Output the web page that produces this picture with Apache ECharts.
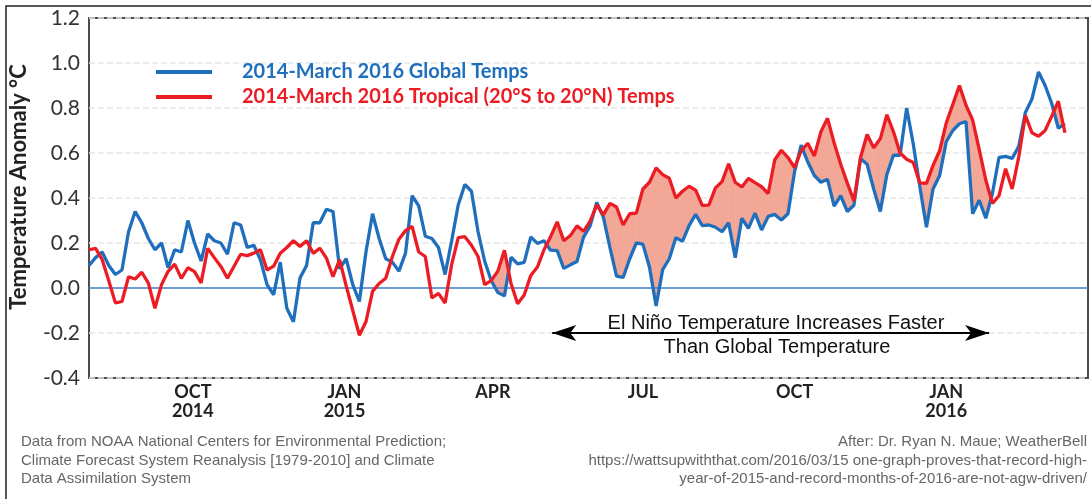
<!DOCTYPE html>
<html>
<head>
<meta charset="UTF-8">
<title>Global vs tropical temperature anomaly</title>
<script src="https://cdn.jsdelivr.net/npm/echarts@6/dist/echarts.min.js"></script>
<style>
  html, body { margin: 0; padding: 0; background: #fff; }
  #chart { width: 1091px; height: 500px; }
</style>
</head>
<body>
<div id="chart"></div>
<script>
// samples every 4 days from 30 Jul 2014
var startDate = '2014-07-30';
var endDate = '2016-03-27';
var stepDays = 4;

var globalTemps = [
  0.10, 0.135, 0.16, 0.10, 0.06, 0.08, 0.25, 0.34, 0.29, 0.22,
  0.17, 0.20, 0.09, 0.17, 0.16, 0.30, 0.20, 0.12, 0.24, 0.21,
  0.20, 0.15, 0.29, 0.28, 0.18, 0.19, 0.125, 0.015, -0.03, 0.115,
  -0.09, -0.15, 0.045, 0.10, 0.29, 0.29, 0.35, 0.34, 0.085, 0.13,
  0.015, -0.06, 0.16, 0.33, 0.22, 0.13, 0.115, 0.075, 0.155, 0.41,
  0.365, 0.23, 0.22, 0.18, 0.06, 0.21, 0.37, 0.46, 0.43, 0.25,
  0.12, 0.032, -0.02, -0.035, 0.137, 0.107, 0.114, 0.227, 0.198, 0.21,
  0.168, 0.166, 0.087, 0.103, 0.118, 0.226, 0.276, 0.38, 0.315, 0.18,
  0.053, 0.047, 0.13, 0.20, 0.195, 0.092, -0.08, 0.082, 0.13, 0.224,
  0.207, 0.277, 0.327, 0.277, 0.28, 0.27, 0.25, 0.29, 0.135, 0.31,
  0.265, 0.333, 0.258, 0.318, 0.327, 0.302, 0.33, 0.517, 0.635, 0.56,
  0.50, 0.47, 0.483, 0.364, 0.41, 0.34, 0.368, 0.576, 0.55, 0.44,
  0.34, 0.505, 0.59, 0.59, 0.80, 0.64, 0.45, 0.27, 0.44, 0.50,
  0.65, 0.70, 0.73, 0.74, 0.33, 0.39, 0.31, 0.42, 0.58, 0.585,
  0.576, 0.63, 0.78, 0.84, 0.96, 0.90, 0.82, 0.71, 0.73
];

var tropicalTemps = [
  0.17, 0.176, 0.126, 0.032, -0.066, -0.06, 0.05, 0.04, 0.07, 0.022,
  -0.09, 0.015, 0.074, 0.106, 0.043, 0.09, 0.073, 0.022, 0.176, 0.135,
  0.096, 0.044, 0.097, 0.15, 0.144, 0.155, 0.17, 0.08, 0.097, 0.154,
  0.18, 0.21, 0.185, 0.21, 0.154, 0.177, 0.133, 0.05, 0.126, 0.01,
  -0.1, -0.21, -0.15, -0.015, 0.02, 0.043, 0.139, 0.217, 0.255, 0.274,
  0.16, 0.14, -0.044, -0.024, -0.067, 0.105, 0.224, 0.228, 0.19, 0.14,
  0.015, 0.033, 0.075, 0.168, 0.02, -0.07, -0.031, 0.056, 0.093, 0.17,
  0.228, 0.294, 0.21, 0.233, 0.276, 0.252, 0.297, 0.37, 0.325, 0.376,
  0.36, 0.28, 0.33, 0.333, 0.44, 0.47, 0.534, 0.504, 0.488, 0.40,
  0.43, 0.452, 0.435, 0.367, 0.368, 0.445, 0.473, 0.552, 0.47, 0.449,
  0.487, 0.468, 0.45, 0.42, 0.57, 0.612, 0.58, 0.535, 0.61, 0.643,
  0.587, 0.695, 0.754, 0.645, 0.55, 0.466, 0.387, 0.58, 0.682, 0.623,
  0.663, 0.77, 0.694, 0.60, 0.572, 0.558, 0.467, 0.465, 0.545, 0.61,
  0.733, 0.816, 0.90, 0.812, 0.747, 0.616, 0.48, 0.376, 0.41, 0.53,
  0.44, 0.583, 0.767, 0.69, 0.674, 0.70, 0.764, 0.83, 0.69
];

var tickDates = ['2014-10-01', '2015-01-01', '2015-04-01', '2015-07-01', '2015-10-01', '2016-01-01'];
var tickLabels = ['OCT\n2014', 'JAN\n2015', 'APR', 'JUL', 'OCT', 'JAN\n2016'];

var shadeFrom = '2015-03-25';   // gap between the lines is shaded from here on
var arrowFrom = '2015-05-07';
var arrowTo = '2016-01-27';

var globalName = '2014-March 2016 Global Temps';
var tropicalName = '2014-March 2016 Tropical (20°S to 20°N) Temps';

var BLUE = '#1f6fbd', RED = '#ec1c24', PINK = '#f2a797';

// x axis is counted in days after startDate
function dayOf(s) {
  var p = s.split('-'), q = startDate.split('-');
  var a = Date.UTC(+p[0], +p[1] - 1, +p[2]), b = Date.UTC(+q[0], +q[1] - 1, +q[2]);
  return Math.round((a - b) / 86400000);
}

var days = globalTemps.map(function (v, k) { return k * stepDays; });

// one row per segment: x0, x1, tropical0, tropical1, global0, global1
var shadeStart = dayOf(shadeFrom);
var gapRows = [];
for (var i = 0; i < days.length - 1; i++) {
  if (days[i] < shadeStart) continue;
  gapRows.push([days[i], days[i + 1], tropicalTemps[i], tropicalTemps[i + 1], globalTemps[i], globalTemps[i + 1]]);
}

function renderGap(params, api) {
  var x0 = api.value(0), x1 = api.value(1);
  var r0 = api.value(2), r1 = api.value(3), b0 = api.value(4), b1 = api.value(5);
  var d0 = r0 - b0, d1 = r1 - b1;
  var pts;
  if (d0 >= 0 && d1 >= 0) {
    pts = [[x0, r0], [x1, r1], [x1, b1], [x0, b0]];
  } else if (d0 < 0 && d1 < 0) {
    return null;
  } else {
    var t = d0 / (d0 - d1);
    var xc = x0 + t * (x1 - x0), yc = b0 + t * (b1 - b0);
    pts = d0 >= 0 ? [[x0, r0], [xc, yc], [x0, b0]] : [[xc, yc], [x1, r1], [x1, b1]];
  }
  return {
    type: 'polygon',
    shape: { points: pts.map(function (p) { return api.coord(p); }) },
    style: { fill: PINK, stroke: PINK, lineWidth: 0.6 }
  };
}

var tickValues = tickDates.map(dayOf);
var labelFor = {};
tickValues.forEach(function (v, k) { labelFor[v] = tickLabels[k]; });

var chart = echarts.init(document.getElementById('chart'));

var option = {
  animation: false,
  grid: {
    left: 89, top: 18, width: 999, height: 360,
    show: true, borderColor: '#4d4d4d', borderWidth: 2, backgroundColor: '#fff'
  },
  legend: {
    orient: 'vertical', left: 151, top: 57, itemWidth: 56, itemHeight: 4, itemGap: 5,
    icon: 'rect',
    textStyle: { fontFamily: 'Lato', fontWeight: 'bold', fontSize: 20, padding: [0, 0, 0, 25] },
    data: [
      { name: globalName, textStyle: { color: BLUE } },
      { name: tropicalName, textStyle: { color: RED } }
    ]
  },
  xAxis: {
    type: 'value',
    min: 0, max: dayOf(endDate),
    axisLine: { show: false }, axisTick: { show: false }, splitLine: { show: false },
    axisLabel: {
      customValues: tickValues,
      formatter: function (v) { return labelFor[v] || ''; },
      fontFamily: 'Lato', fontWeight: 'bold', fontSize: 18, lineHeight: 19,
      color: '#222', margin: 5, hideOverlap: false
    }
  },
  yAxis: {
    type: 'value', min: -0.4, max: 1.2, interval: 0.2,
    axisLine: { show: false }, axisTick: { show: false },
    splitLine: { lineStyle: { color: '#e8e8e8', type: 'dashed', width: 1.5 } },
    axisLabel: {
      fontFamily: 'Lato', fontSize: 21, color: '#333', margin: 9,
      formatter: function (v) { return Math.abs(v) < 1e-9 ? '0.0' : v.toFixed(1); }
    }
  },
  series: [
    {
      name: 'gap', type: 'custom', renderItem: renderGap, data: gapRows,
      encode: { x: [0, 1], y: [2, 3, 4, 5] }, silent: true, z: 1
    },
    {
      name: globalName, type: 'line', symbol: 'none', z: 3,
      data: days.map(function (d, k) { return [d, globalTemps[k]]; }),
      lineStyle: { color: BLUE, width: 3.3 }, itemStyle: { color: BLUE },
      markLine: {
        silent: true, symbol: ['none', 'none'], label: { show: false }, z: 2,
        lineStyle: { color: '#3f7fc6', width: 1.5, type: 'solid' },
        data: [{ yAxis: 0 }]
      }
    },
    {
      name: tropicalName, type: 'line', symbol: 'none', z: 4,
      data: days.map(function (d, k) { return [d, tropicalTemps[k]]; }),
      lineStyle: { color: RED, width: 3.3 }, itemStyle: { color: RED },
      markLine: {
        silent: true, symbol: ['arrow', 'arrow'], symbolSize: [12, 24],
        label: { show: false },
        lineStyle: { color: '#000', width: 2, type: 'solid' },
        data: [[{ coord: [dayOf(arrowFrom), -0.2] }, { coord: [dayOf(arrowTo), -0.2] }]]
      }
    }
  ],
  graphic: [
    {
      type: 'polyline', silent: true,
      shape: { points: [[6, 499], [6, 6], [1091, 6]] },
      style: { stroke: '#222', lineWidth: 1.5, fill: null }
    },
    {
      type: 'text', x: 19, y: 187, rotation: Math.PI / 2,
      style: { text: 'Temperature Anomaly °C', font: 'bold 22px Lato', fill: '#222', align: 'center', verticalAlign: 'middle' }
    },
    {
      type: 'text', x: 776, y: 323,
      style: { text: 'El Niño Temperature Increases Faster', font: '20px "Liberation Sans"', fill: '#111', align: 'center', verticalAlign: 'middle' }
    },
    {
      type: 'text', x: 777, y: 347,
      style: { text: 'Than Global Temperature', font: '20px "Liberation Sans"', fill: '#111', align: 'center', verticalAlign: 'middle' }
    },
    {
      type: 'text', x: 21, y: 433,
      style: {
        text: 'Data from NOAA National Centers for Environmental Prediction;\nClimate Forecast System Reanalysis [1979-2010] and Climate\nData Assimilation System',
        font: '15px "Liberation Sans"', lineHeight: 18.5, fill: '#666', align: 'left', verticalAlign: 'top'
      }
    },
    {
      type: 'text', x: 1087, y: 433,
      style: {
        text: 'After: Dr. Ryan N. Maue; WeatherBell\nhttps://wattsupwiththat.com/2016/03/15 one-graph-proves-that-record-high-\nyear-of-2015-and-record-months-of-2016-are-not-agw-driven/',
        font: '15px "Liberation Sans"', lineHeight: 18.5, fill: '#666', align: 'right', verticalAlign: 'top'
      }
    }
  ]
};

chart.setOption(option);
</script>
</body>
</html>
